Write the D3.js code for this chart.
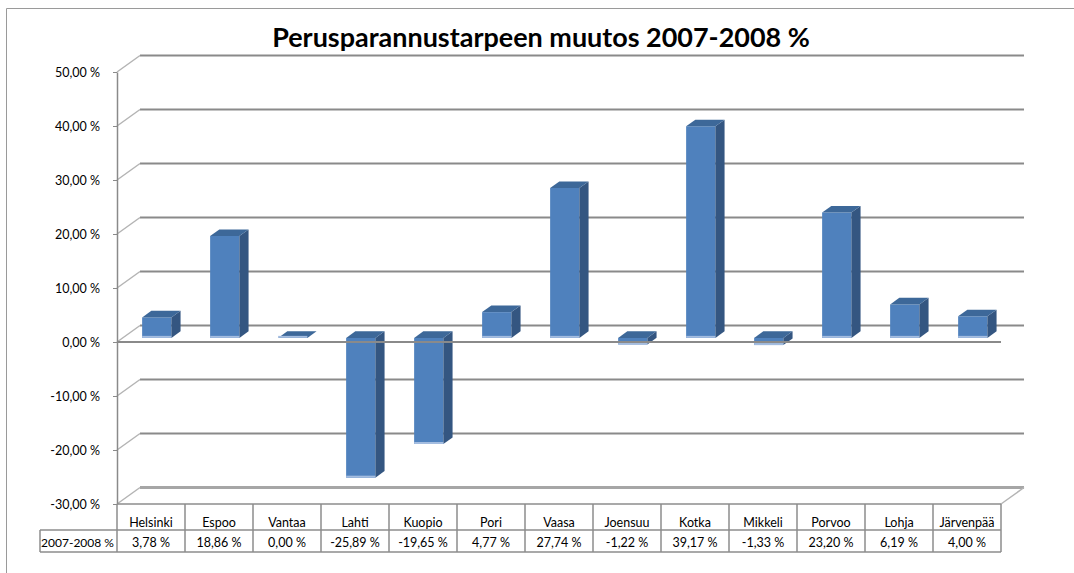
<!DOCTYPE html>
<html>
<head>
<meta charset="utf-8">
<script src="https://cdn.jsdelivr.net/npm/d3@7"></script>
<style>
  body { margin: 0; background: #fff; }
  svg { display: block; font-family: Lato, "Open Sans", sans-serif; }
</style>
</head>
<body>
<svg></svg>
<script>
// Data
const cities = ["Helsinki", "Espoo", "Vantaa", "Lahti", "Kuopio", "Pori", "Vaasa",
                "Joensuu", "Kotka", "Mikkeli", "Porvoo", "Lohja", "Järvenpää"];
const values = [3.78, 18.86, 0.00, -25.89, -19.65, 4.77, 27.74, -1.22, 39.17, -1.33, 23.20, 6.19, 4.00];
const yTicks = [-30, -20, -10, 0, 10, 20, 30, 40, 50];
const rowLabel = "2007-2008 %";
const title = "Perusparannustarpeen muutos 2007-2008 %";

const width = 1074, height = 573;
const svg = d3.select("svg").attr("width", width).attr("height", height);

// 3D depth offset (front plane -> back wall)
const depth = { dx: 23, dy: -16.5 };

const x = d3.scaleBand().domain(cities).range([117, 1001]).padding(0);
const y = d3.scaleLinear().domain([-30, 50]).range([504, 72]);

// project a point at (screen x, value, depth fraction z)
const pt = (px, v, z) => [px + z * depth.dx, y(v) + z * depth.dy];
const poly = d3.line();

const fmt = v => d3.format(".2f")(v).replace("\u2212", "-").replace(".", ",") + "\u00a0%";

// Chart frame
svg.append("path")
    .attr("d", `M6.5,${height} V8.5 H${width}`)
    .attr("fill", "none")
    .attr("stroke", "#9a9a9a");

// Title (scaled to the reference width)
const titleText = svg.append("text")
    .attr("x", 541)
    .attr("y", 47)
    .attr("text-anchor", "middle")
    .style("font-weight", "bold")
    .style("font-size", "22px")
    .attr("fill", "#000")
    .text(title);
const tw = titleText.node().getComputedTextLength();
titleText.style("font-size", (22 * 538 / tw) + "px");

// Back wall gridlines + side wall diagonals
const [x0, x1] = x.range();
yTicks.forEach(t => {
    if (t === -30) return;
    svg.append("path")
        .attr("d", poly([pt(x0, t, 1), pt(x1, t, 1)]))
        .attr("stroke", "#8a8a8a")
        .attr("stroke-width", 2);
});
yTicks.forEach(t => {
    svg.append("path")
        .attr("d", poly([pt(x0, t, 0), pt(x0, t, 1)]))
        .attr("stroke", "#b4b4b4")
        .attr("stroke-width", 1.5);
});

// Floor at the bottom
svg.append("path")
    .attr("d", poly([pt(x0, -30, 1), pt(x1, -30, 1)]))
    .attr("stroke", "#a6a6a6")
    .attr("stroke-width", 3);
svg.append("path")
    .attr("d", poly([pt(x1, -30, 0), pt(x1, -30, 1)]))
    .attr("stroke", "#b4b4b4")
    .attr("stroke-width", 1.5);

// Bars
const z0 = 0.25, z1 = 0.65;
const half = x.bandwidth() * 0.215;
const bars = svg.append("g");
cities.forEach((c, i) => {
    const v = values[i];
    const cx = x(c) + x.bandwidth() / 2;
    const l = cx - half, r = cx + half;
    const top = Math.max(v, 0);
    const g = bars.append("g");
    if (v !== 0) {
        g.append("path")
            .attr("d", poly([pt(l, 0, z0), pt(r, 0, z0), pt(r, v, z0), pt(l, v, z0)]) + "Z")
            .attr("fill", "#4f81bd");
        g.append("path")
            .attr("d", poly([pt(r, 0, z0), pt(r, 0, z1), pt(r, v, z1), pt(r, v, z0)]) + "Z")
            .attr("fill", "#345681");
    }
    g.append("path")
        .attr("d", poly([pt(l, top, z0), pt(r, top, z0), pt(r, top, z1), pt(l, top, z1)]) + "Z")
        .attr("fill", "#3d6899");
    // light bottom edge
    const bot = Math.min(v, 0);
    g.append("path")
        .attr("d", poly([pt(l, bot, z0), pt(r, bot, z0)]))
        .attr("transform", "translate(0,-1)")
        .attr("stroke", "#a4bde0")
        .attr("stroke-width", 2);
});

// Front zero line (drawn over bars)
svg.append("path")
    .attr("d", poly([pt(x0, 0, 0), pt(x1, 0, 0)]))
    .attr("stroke", "#8a8a8a")
    .attr("stroke-width", 2);

// Y axis
const yAxis = svg.append("g")
    .attr("transform", `translate(${x0},0)`)
    .call(d3.axisLeft(y).tickValues(yTicks).tickFormat(fmt).tickSize(4).tickSizeOuter(0).tickPadding(13));
yAxis.select(".domain").attr("stroke", "#8a8a8a").attr("stroke-width", 1.5);
yAxis.selectAll(".tick line").attr("stroke", "#8a8a8a");
yAxis.selectAll(".tick text")
    .attr("fill", "#000")
    .style("font-family", "Lato, sans-serif")
    .style("font-size", "12.5px");

// Data table
const tTop = 504, tMid = 530, tBot = 552, labelLeft = 40;
const table = svg.append("g").attr("stroke", "#8c8c8c").attr("stroke-width", 1.5);
table.append("line").attr("x1", x0).attr("x2", x1).attr("y1", tTop).attr("y2", tTop);
table.append("line").attr("x1", labelLeft).attr("x2", x1).attr("y1", tMid).attr("y2", tMid);
table.append("line").attr("x1", labelLeft).attr("x2", x1).attr("y1", tBot).attr("y2", tBot);
table.append("line").attr("x1", labelLeft).attr("x2", labelLeft).attr("y1", tMid).attr("y2", tBot);
cities.concat([null]).forEach((c, i) => {
    const xx = c === null ? x1 : x(c);
    table.append("line").attr("x1", xx).attr("x2", xx).attr("y1", tTop).attr("y2", tBot);
});

const tText = svg.append("g")
    .style("font-family", "Lato, sans-serif")
    .style("font-size", "12.5px")
    .attr("fill", "#000")
    .attr("text-anchor", "middle");
cities.forEach((c, i) => {
    const cx = x(c) + x.bandwidth() / 2;
    tText.append("text").attr("x", cx).attr("y", 527).text(c);
    tText.append("text").attr("x", cx).attr("y", 547).text(fmt(values[i]));
});
tText.append("text")
    .attr("x", (labelLeft + x0) / 2 - 1)
    .attr("y", 547)
    .style("font-size", "12px")
    .text(rowLabel);
</script>
</body>
</html>
